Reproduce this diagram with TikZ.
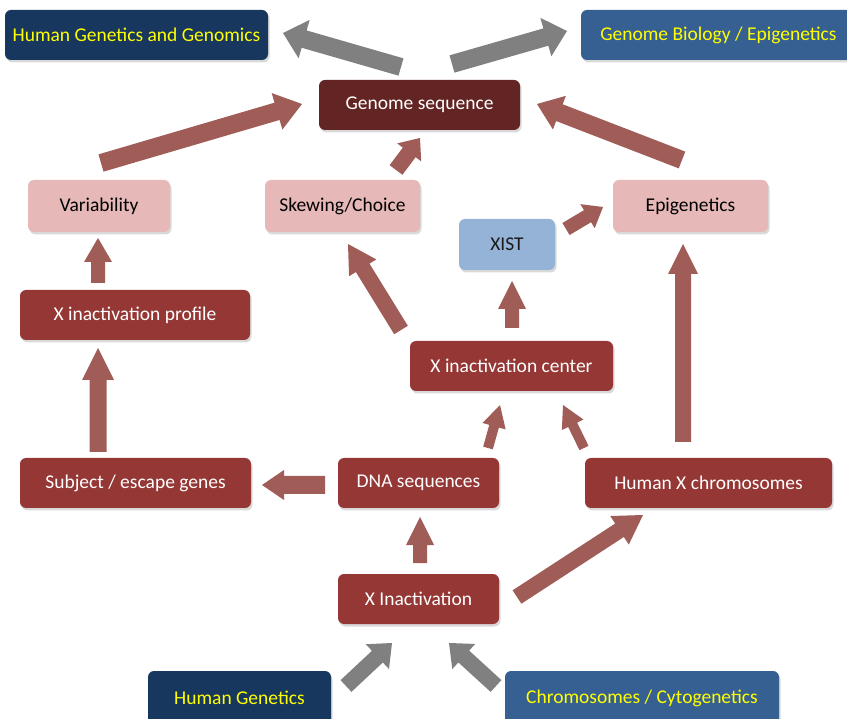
\documentclass[tikz,border=0pt]{standalone}
\usepackage{fontspec}
\setmainfont{Carlito}
\usetikzlibrary{calc,shadows}
\definecolor{navy}{HTML}{17375E}
\definecolor{steel}{HTML}{376092}
\definecolor{maroon}{HTML}{632523}
\definecolor{brick}{HTML}{953735}
\definecolor{pinkbox}{HTML}{E6B9B8}
\definecolor{xistblue}{HTML}{95B3D7}
\definecolor{redarrow}{RGB}{160,92,87}
\definecolor{grayarrow}{HTML}{808080}
\definecolor{ytext}{HTML}{FFFF00}
\definecolor{darktext}{HTML}{1A1A1A}
% block arrow: colour, from, to, shaft half width, head half width, head length
\newcommand{\blockarrow}[6]{%
  \coordinate (ba-n) at ($(#3)!#6!(#2)$);
  \fill[#1] ($(#2)!#4!90:(#3)$) -- ($(ba-n)!#4!-90:(#2)$) -- ($(ba-n)!#5!-90:(#2)$)
    -- (#3) -- ($(ba-n)!#5!90:(#2)$) -- ($(ba-n)!#4!90:(#2)$) -- ($(#2)!#4!-90:(#3)$) -- cycle;}
\tikzset{
  box/.style={rounded corners=6pt, inner sep=0pt, minimum height=50pt, font=\fontsize{19.5}{22}\selectfont,
    drop shadow={shadow xshift=1.5pt, shadow yshift=-2.5pt, opacity=0.3}},
  navybox/.style={box, fill=navy, text=ytext},
  steelbox/.style={box, fill=steel, text=ytext},
  maroonbox/.style={box, fill=maroon, text=white},
  brickbox/.style={box, fill=brick, text=white},
  pinkbx/.style={box, fill=pinkbox, text=black, minimum height=52pt},
  xistbx/.style={box, fill=xistblue, text=darktext, minimum height=51pt},
}
\begin{document}
\begin{tikzpicture}[x=1pt,y=-1pt]
\useasboundingbox (0,0) rectangle (847,719);
\begin{scope}
\clip (0,0) rectangle (847,719);
% boxes
\node[navybox, minimum width=263pt] (hgg) at (136.5,35) {Human Genetics and Genomics};
\node[steelbox, minimum width=271pt] (gbe) at (716.5,35) {\hspace*{4pt}Genome Biology / Epigenetics};
\node[maroonbox, minimum width=201pt] (gs) at (419.5,105) {Genome sequence};
\node[pinkbx, minimum width=142pt] (var) at (99,206) {Variability};
\node[pinkbx, minimum width=155pt] (skew) at (342.5,206) {Skewing/Choice};
\node[pinkbx, minimum width=155pt] (epi) at (690.5,206) {Epigenetics};
\node[xistbx, minimum width=96pt] (xist) at (507,244.5) {XIST};
\node[brickbox, minimum width=230pt] (xip) at (135,315) {X inactivation profile};
\node[brickbox, minimum width=203pt] (xic) at (511.5,366) {X inactivation center};
\node[brickbox, minimum width=231pt] (sub) at (135.5,483) {Subject / escape genes};
\node[brickbox, minimum width=161pt] (dna) at (418.5,483) {DNA sequences};
\node[brickbox, minimum width=247pt] (hxc) at (708.5,483) {Human X chromosomes};
\node[brickbox, minimum width=161pt] (xin) at (418.5,599) {X Inactivation};
\node[navybox, minimum width=183pt, minimum height=54pt] (hg) at (239.5,698) {Human Genetics};
\node[steelbox, minimum width=274pt, minimum height=54pt] (chr) at (642,698) {Chromosomes / Cytogenetics};
\end{scope}
% arrow end points
\coordinate (a1t) at (401,67);  \coordinate (a1h) at (283,33);
\coordinate (a2t) at (452,64);  \coordinate (a2h) at (567,31);
\coordinate (a3t) at (101,163); \coordinate (a3h) at (302,104);
\coordinate (a4t) at (396,170); \coordinate (a4h) at (420,138);
\coordinate (a5t) at (682,160); \coordinate (a5h) at (537,104);
\coordinate (a6t) at (98,283);  \coordinate (a6h) at (98,238);
\coordinate (a7t) at (98,452);  \coordinate (a7h) at (98,348);
\coordinate (a8t) at (401,330); \coordinate (a8h) at (348,244);
\coordinate (a9t) at (512,328); \coordinate (a9h) at (512,281);
\coordinate (a10t) at (566,229); \coordinate (a10h) at (603,207);
\coordinate (a11t) at (683,442); \coordinate (a11h) at (683,244);
\coordinate (a12t) at (488,448); \coordinate (a12h) at (500,405);
\coordinate (a13t) at (584,448); \coordinate (a13h) at (563,405);
\coordinate (a14t) at (325,485); \coordinate (a14h) at (262,485);
\coordinate (a15t) at (420,563); \coordinate (a15h) at (420,517);
\coordinate (a16t) at (517,597); \coordinate (a16h) at (643,515);
\coordinate (a17t) at (346,686); \coordinate (a17h) at (392,643);
\coordinate (a18t) at (496,686); \coordinate (a18h) at (449,643);
% gray arrows
\blockarrow{grayarrow}{a1t}{a1h}{9pt}{20pt}{22pt}
\blockarrow{grayarrow}{a2t}{a2h}{9pt}{20pt}{22pt}
\blockarrow{grayarrow}{a17t}{a17h}{8pt}{17pt}{20pt}
\blockarrow{grayarrow}{a18t}{a18h}{8pt}{17pt}{20pt}
% red arrows
\blockarrow{redarrow}{a3t}{a3h}{9pt}{19pt}{26pt}
\blockarrow{redarrow}{a4t}{a4h}{8pt}{15pt}{18pt}
\blockarrow{redarrow}{a5t}{a5h}{9pt}{18pt}{24pt}
\blockarrow{redarrow}{a6t}{a6h}{7pt}{14pt}{24pt}
\blockarrow{redarrow}{a7t}{a7h}{8.5pt}{16pt}{32pt}
\blockarrow{redarrow}{a8t}{a8h}{8pt}{16pt}{28pt}
\blockarrow{redarrow}{a9t}{a9h}{7pt}{14pt}{28pt}
\blockarrow{redarrow}{a10t}{a10h}{7pt}{14pt}{18pt}
\blockarrow{redarrow}{a11t}{a11h}{8pt}{15pt}{30pt}
\blockarrow{redarrow}{a12t}{a12h}{5pt}{12pt}{22pt}
\blockarrow{redarrow}{a13t}{a13h}{5pt}{12pt}{22pt}
\blockarrow{redarrow}{a14t}{a14h}{9pt}{15pt}{22pt}
\blockarrow{redarrow}{a15t}{a15h}{7pt}{14pt}{28pt}
\blockarrow{redarrow}{a16t}{a16h}{8pt}{17pt}{28pt}
\end{tikzpicture}
\end{document}
